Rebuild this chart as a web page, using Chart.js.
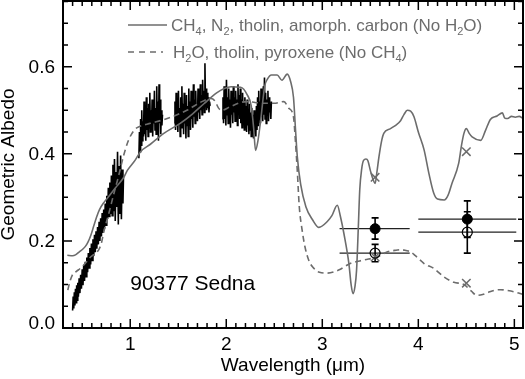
<!DOCTYPE html>
<html>
<head>
<meta charset="utf-8">
<script src="https://cdn.jsdelivr.net/npm/chart.js@4.4.1/dist/chart.umd.min.js"></script>
<style>
  html, body { margin: 0; padding: 0; background: #fff; }
</style>
</head>
<body>
<canvas id="albedo" width="525" height="379"></canvas>
<script>
  // axis ticks
  var xTickVals = [1, 2, 3, 4, 5];
  var yTickVals = [0, 0.2, 0.4, 0.6];

  // measured spectrum (null = gap between bands)
  var specX = [
    0.400, 0.406, 0.412, 0.418, 0.424, 0.430, 0.436, 0.442, 0.448, 0.454, 0.460, 0.468, 0.476, 0.484, 0.492,
    0.500, 0.508, 0.516, 0.524, 0.532, 0.540, 0.548, 0.556, 0.564, 0.572, 0.580, 0.588, 0.596, 0.604, 0.612,
    0.620, 0.628, 0.636, 0.644, 0.652, 0.660, 0.668, 0.676, 0.684, 0.692, 0.700, 0.708, 0.716, 0.724, 0.732,
    0.740, 0.748, 0.756, 0.764, 0.772, 0.780, 0.788, 0.796, 0.804, 0.812, 0.820, 0.828, 0.836, 0.844, 0.852,
    0.860, 0.868, 0.876, 0.884, 0.892, 0.900, 0.908, 0.916, 0.924, 0.930,
    1.000,
    1.090, 1.096, 1.102, 1.108, 1.114, 1.120, 1.126, 1.132, 1.138, 1.144, 1.150, 1.156, 1.162, 1.168, 1.174,
    1.180, 1.186, 1.192, 1.198, 1.204, 1.210, 1.216, 1.222, 1.228, 1.234, 1.240, 1.246, 1.252, 1.258, 1.264,
    1.270, 1.276, 1.282, 1.288, 1.294, 1.300, 1.306, 1.312, 1.318, 1.324, 1.330, 1.336,
    1.400,
    1.460, 1.466, 1.472, 1.478, 1.484, 1.490, 1.496, 1.502, 1.508, 1.514, 1.520, 1.526, 1.532, 1.538, 1.544,
    1.550, 1.556, 1.562, 1.568, 1.574, 1.580, 1.586, 1.592, 1.598, 1.604, 1.610, 1.616, 1.622, 1.628, 1.634,
    1.640, 1.646, 1.652, 1.658, 1.664, 1.670, 1.676, 1.682, 1.688, 1.694, 1.700, 1.706, 1.712, 1.718, 1.724,
    1.730, 1.736, 1.742, 1.748, 1.754, 1.760, 1.766, 1.772, 1.778, 1.784, 1.790, 1.796, 1.802, 1.808, 1.814,
    1.820, 1.826, 1.832,
    1.900,
    1.960, 1.966, 1.972, 1.978, 1.984, 1.990, 1.996, 2.002, 2.008, 2.014, 2.020, 2.026, 2.032, 2.038, 2.044,
    2.050, 2.056, 2.062, 2.068, 2.074, 2.080, 2.086, 2.092, 2.098, 2.104, 2.110, 2.116, 2.122, 2.128, 2.134,
    2.140, 2.146, 2.152, 2.158, 2.164, 2.170, 2.176, 2.182, 2.188, 2.194, 2.200, 2.206, 2.212, 2.218, 2.224,
    2.230, 2.236, 2.242, 2.248, 2.254, 2.260, 2.266, 2.272, 2.278, 2.284, 2.290, 2.296, 2.302, 2.308, 2.314,
    2.320, 2.326, 2.332, 2.338, 2.344, 2.350, 2.356, 2.362, 2.368, 2.374, 2.380, 2.386, 2.392, 2.398, 2.404,
    2.410, 2.416, 2.422, 2.428, 2.434, 2.440, 2.446, 2.452, 2.458, 2.464, 2.470
  ];
  var specY = [
    0.040, 0.072, 0.045, 0.082, 0.052, 0.090, 0.058, 0.098, 0.064, 0.104, 0.072, 0.114, 0.080, 0.122, 0.090,
    0.135, 0.098, 0.145, 0.108, 0.152, 0.118, 0.162, 0.128, 0.172, 0.138, 0.184, 0.146, 0.194, 0.155, 0.204,
    0.165, 0.214, 0.174, 0.222, 0.182, 0.232, 0.192, 0.244, 0.200, 0.252, 0.210, 0.264, 0.218, 0.272, 0.228,
    0.286, 0.236, 0.304, 0.250, 0.322, 0.256, 0.334, 0.262, 0.350, 0.258, 0.375, 0.268, 0.388, 0.246, 0.358,
    0.278, 0.405, 0.238, 0.372, 0.262, 0.396, 0.250, 0.364, 0.286, 0.348,
    null,
    0.390, 0.450, 0.405, 0.480, 0.420, 0.500, 0.430, 0.475, 0.440, 0.520, 0.445, 0.490, 0.430, 0.530, 0.455,
    0.505, 0.440, 0.515, 0.460, 0.540, 0.450, 0.500, 0.465, 0.525, 0.440, 0.510, 0.470, 0.545, 0.455, 0.505,
    0.445, 0.555, 0.460, 0.520, 0.430, 0.560, 0.470, 0.525, 0.445, 0.500, 0.465, 0.490,
    null,
    0.470, 0.520, 0.455, 0.540, 0.465, 0.510, 0.450, 0.545, 0.470, 0.505, 0.440, 0.530, 0.460, 0.555, 0.475,
    0.515, 0.445, 0.540, 0.470, 0.500, 0.435, 0.535, 0.465, 0.510, 0.440, 0.550, 0.475, 0.520, 0.455, 0.545,
    0.480, 0.510, 0.460, 0.560, 0.485, 0.525, 0.470, 0.545, 0.490, 0.515, 0.475, 0.550, 0.495, 0.530, 0.480,
    0.560, 0.500, 0.535, 0.490, 0.570, 0.505, 0.545, 0.495, 0.608, 0.510, 0.550, 0.500, 0.540, 0.505, 0.530,
    0.495, 0.520, 0.510,
    null,
    0.480, 0.530, 0.470, 0.555, 0.480, 0.540, 0.465, 0.570, 0.490, 0.530, 0.470, 0.550, 0.485, 0.525, 0.460,
    0.545, 0.490, 0.520, 0.470, 0.555, 0.495, 0.530, 0.475, 0.545, 0.500, 0.525, 0.465, 0.560, 0.490, 0.535,
    0.480, 0.550, 0.470, 0.525, 0.460, 0.540, 0.485, 0.520, 0.455, 0.530, 0.475, 0.510, 0.450, 0.525, 0.465,
    0.500, 0.445, 0.515, 0.455, 0.495, 0.440, 0.505, 0.450, 0.490, 0.435, 0.500, 0.445, 0.480, 0.440, 0.510,
    0.455, 0.530, 0.465, 0.545, 0.480, 0.520, 0.470, 0.550, 0.485, 0.535, 0.475, 0.555, 0.490, 0.575, 0.480,
    0.540, 0.470, 0.525, 0.490, 0.545, 0.475, 0.530, 0.495, 0.515, 0.480, 0.520
  ];

  // model 1: CH4, N2, tholin, amorphous carbon
  var modelAX = [
    0.345, 0.40, 0.43, 0.47, 0.51, 0.535, 0.56, 0.59, 0.62, 0.65, 0.68, 0.725, 0.78, 0.847, 0.93, 0.97,
    1.05, 1.107, 1.21, 1.35, 1.52, 1.65, 1.767, 1.90, 1.98, 2.05, 2.15, 2.22, 2.26, 2.285, 2.305, 2.33,
    2.36, 2.40, 2.43, 2.47, 2.53, 2.58, 2.635, 2.67, 2.70, 2.72, 2.74, 2.775, 2.83, 2.90, 2.965, 3.05,
    3.10, 3.156, 3.19, 3.225, 3.277, 3.30, 3.32, 3.34, 3.357, 3.375, 3.39, 3.41, 3.43, 3.455, 3.475, 3.50,
    3.52, 3.55, 3.57, 3.59, 3.62, 3.64, 3.71, 3.76, 3.815, 3.85, 3.885, 3.92, 3.955, 4.00, 4.06, 4.11,
    4.16, 4.20, 4.27, 4.31, 4.35, 4.42, 4.45, 4.475, 4.50, 4.53, 4.56, 4.65, 4.70, 4.75, 4.82, 4.875,
    4.90, 4.93, 4.97, 5.01, 5.05, 5.09
  ];
  var modelAY = [
    0.167, 0.166, 0.168, 0.175, 0.182, 0.188, 0.197, 0.213, 0.234, 0.255, 0.272, 0.288, 0.303, 0.322, 0.345, 0.362,
    0.385, 0.405, 0.422, 0.447, 0.470, 0.492, 0.515, 0.540, 0.550, 0.554, 0.553, 0.535, 0.510, 0.460, 0.408, 0.430,
    0.480, 0.555, 0.572, 0.581, 0.581, 0.569, 0.583, 0.566, 0.530, 0.460, 0.393, 0.330, 0.278, 0.248, 0.231, 0.244,
    0.258, 0.282, 0.255, 0.217, 0.148, 0.100, 0.079, 0.095, 0.133, 0.230, 0.317, 0.365, 0.385, 0.388, 0.384, 0.362,
    0.347, 0.332, 0.360, 0.393, 0.432, 0.447, 0.458, 0.465, 0.476, 0.490, 0.500, 0.498, 0.485, 0.450, 0.409, 0.355,
    0.310, 0.296, 0.294, 0.305, 0.332, 0.378, 0.420, 0.447, 0.458, 0.447, 0.439, 0.431, 0.454, 0.479, 0.487, 0.494,
    0.482, 0.481, 0.486, 0.484, 0.486, 0.481
  ];

  // model 2: H2O, tholin, pyroxene
  var modelBX = [
    0.35, 0.37, 0.396, 0.44, 0.48, 0.53, 0.587, 0.64, 0.673, 0.70, 0.725, 0.777, 0.83, 0.88, 0.93, 0.98,
    1.04, 1.10, 1.21, 1.385, 1.59, 1.73, 1.84, 1.88, 1.92, 1.95, 2.04, 2.15, 2.22, 2.30, 2.40, 2.50,
    2.60, 2.65, 2.70, 2.72, 2.74, 2.76, 2.79, 2.82, 2.86, 2.90, 2.97, 3.05, 3.17, 3.29, 3.43, 3.57,
    3.68, 3.78, 3.815, 3.87, 3.92, 3.97, 4.02, 4.06, 4.16, 4.27, 4.37, 4.475, 4.55, 4.61, 4.67, 4.72,
    4.80, 4.86, 4.93, 5.00, 5.09
  ];
  var modelBY = [
    0.087, 0.105, 0.121, 0.130, 0.137, 0.148, 0.163, 0.172, 0.180, 0.195, 0.221, 0.263, 0.309, 0.350, 0.395, 0.430,
    0.454, 0.463, 0.470, 0.481, 0.500, 0.518, 0.527, 0.522, 0.505, 0.500, 0.508, 0.518, 0.520, 0.518, 0.516, 0.516,
    0.520, 0.505, 0.485, 0.430, 0.360, 0.280, 0.225, 0.186, 0.155, 0.140, 0.128, 0.126, 0.133, 0.148, 0.156, 0.163,
    0.175, 0.179, 0.180, 0.178, 0.175, 0.166, 0.156, 0.148, 0.137, 0.117, 0.105, 0.100, 0.085, 0.075, 0.077, 0.081,
    0.087, 0.088, 0.086, 0.083, 0.077
  ];

  // models integrated over the IRAC bands (crosses)
  var bandX = [3.55, 4.50];
  var bandModelA = [0.346, 0.405];
  var bandModelB = [0.163, 0.103];

  // Spitzer photometry, two reductions
  var photX = [3.55, 4.51];
  var photXLo = [3.18, 4.00];
  var photXHi = [3.91, 5.02];
  var filledY = [0.228, 0.250];
  var filledLo = [0.204, 0.208];
  var filledHi = [0.253, 0.292];
  var openY = [0.172, 0.220];
  var openLo = [0.152, 0.172];
  var openHi = [0.192, 0.267];

  var FONT = 'Liberation Sans, Arial, Helvetica, sans-serif';
  var GREY = '#6c6c6c';

  function pairs(xs, ys) {
    return xs.map(function (x, i) { return { x: x, y: ys[i] }; });
  }

  function richText(ctx, parts, x, y, size) {
    parts.forEach(function (p) {
      var sub = p[1];
      ctx.font = (sub ? Math.round(size * 0.62) : size) + 'px ' + FONT;
      ctx.fillText(p[0], x, sub ? y + size * 0.22 : y);
      x += ctx.measureText(p[0]).width;
    });
  }

  var decor = {
    id: 'decor',
    beforeDatasetsDraw: function (chart) {
      var ctx = chart.ctx, xs = chart.scales.x, ys = chart.scales.y;
      ctx.save();
      ctx.lineWidth = 1.3;
      ctx.strokeStyle = '#222';
      // horizontal (bandwidth) bars
      [filledY, openY].forEach(function (arr) {
        arr.forEach(function (v, i) {
          var py = ys.getPixelForValue(v);
          ctx.beginPath();
          ctx.moveTo(xs.getPixelForValue(photXLo[i]), py);
          ctx.lineTo(xs.getPixelForValue(photXHi[i]), py);
          ctx.stroke();
        });
      });
      // vertical error bars with caps
      ctx.strokeStyle = '#000';
      ctx.lineWidth = 1.6;
      [[filledLo, filledHi], [openLo, openHi]].forEach(function (pr) {
        photX.forEach(function (x, i) {
          var px = xs.getPixelForValue(x);
          var lo = ys.getPixelForValue(pr[0][i]), hi = ys.getPixelForValue(pr[1][i]);
          ctx.beginPath();
          ctx.moveTo(px, lo); ctx.lineTo(px, hi);
          ctx.moveTo(px - 3.5, lo); ctx.lineTo(px + 3.5, lo);
          ctx.moveTo(px - 3.5, hi); ctx.lineTo(px + 3.5, hi);
          ctx.stroke();
        });
      });
      ctx.restore();
    },
    afterDatasetsDraw: function (chart) {
      var ctx = chart.ctx, xs = chart.scales.x, ys = chart.scales.y, a = chart.chartArea;
      ctx.save();
      // inward ticks on all four sides
      ctx.strokeStyle = '#000';
      ctx.lineWidth = 1.5;
      ctx.beginPath();
      for (var i = 4; i <= 50; i++) {
        var px = xs.getPixelForValue(i / 10);
        var len = i % 10 === 0 ? 9 : 5;
        ctx.moveTo(px, a.bottom); ctx.lineTo(px, a.bottom - len);
        ctx.moveTo(px, a.top); ctx.lineTo(px, a.top + len);
      }
      for (var j = 1; j <= 15; j++) {
        var py = ys.getPixelForValue(j * 0.05);
        var l2 = j % 4 === 0 ? 9 : 5;
        ctx.moveTo(a.left, py); ctx.lineTo(a.left + l2, py);
        ctx.moveTo(a.right, py); ctx.lineTo(a.right - l2, py);
      }
      ctx.stroke();
      // frame
      ctx.lineWidth = 2;
      ctx.strokeRect(a.left, a.top, a.right - a.left, a.bottom - a.top);

      // tick labels, placed through the scales
      ctx.fillStyle = '#000';
      ctx.font = '19px ' + FONT;
      ctx.textBaseline = 'middle';
      ctx.textAlign = 'center';
      xTickVals.forEach(function (v) {
        ctx.fillText(String(v), xs.getPixelForValue(v), a.bottom + 17);
      });
      ctx.textAlign = 'right';
      yTickVals.forEach(function (v) {
        ctx.fillText(v.toFixed(1), a.left - 8, ys.getPixelForValue(v) + (v === 0 ? -4 : 1));
      });

      // legend
      ctx.strokeStyle = GREY;
      ctx.lineWidth = 1.5;
      ctx.beginPath();
      ctx.moveTo(a.left + 65, 25); ctx.lineTo(a.left + 104, 25);
      ctx.stroke();
      ctx.setLineDash([6, 5]);
      ctx.beginPath();
      ctx.moveTo(a.left + 65, 52); ctx.lineTo(a.left + 100, 52);
      ctx.stroke();
      ctx.setLineDash([]);
      ctx.fillStyle = GREY;
      ctx.textBaseline = 'alphabetic';
      ctx.textAlign = 'left';
      richText(ctx, [['CH', 0], ['4', 1], [', N', 0], ['2', 1], [', tholin, amorph. carbon (No H', 0], ['2', 1], ['O)', 0]],
        a.left + 108, 31, 17);
      richText(ctx, [['H', 0], ['2', 1], ['O, tholin, pyroxene (No CH', 0], ['4', 1], [')', 0]],
        a.left + 110, 58, 17);

      // object name
      ctx.fillStyle = '#000';
      ctx.font = '21px ' + FONT;
      ctx.fillText('90377 Sedna', xs.getPixelForValue(1.0), ys.getPixelForValue(0.087));
      ctx.restore();
    }
  };

  var ctx = document.getElementById('albedo').getContext('2d');
  window.albedoChart = new Chart(ctx, {
    type: 'scatter',
    data: {
      datasets: [
        {
          label: 'Model bands A',
          data: pairs(bandX, bandModelA),
          pointStyle: 'crossRot', pointRadius: 6, borderColor: GREY, borderWidth: 1.5,
          showLine: false, order: 2
        },
        {
          label: 'Model bands B',
          data: pairs(bandX, bandModelB),
          pointStyle: 'crossRot', pointRadius: 6, borderColor: GREY, borderWidth: 1.5,
          showLine: false, order: 2
        },
        {
          label: 'IRAC filled',
          data: pairs(photX, filledY),
          pointStyle: 'circle', pointRadius: 5, backgroundColor: '#000', borderColor: '#000', borderWidth: 1,
          showLine: false, order: 1
        },
        {
          label: 'IRAC open',
          data: pairs(photX, openY),
          pointStyle: 'circle', pointRadius: 5, backgroundColor: 'rgba(0,0,0,0)', borderColor: '#000', borderWidth: 1.2,
          showLine: false, order: 1
        },
        {
          label: 'CH4 model',
          data: pairs(modelAX, modelAY),
          showLine: true, pointRadius: 0, borderColor: GREY, borderWidth: 1.6, cubicInterpolationMode: 'monotone',
          order: 5
        },
        {
          label: 'H2O model',
          data: pairs(modelBX, modelBY),
          showLine: true, pointRadius: 0, borderColor: GREY, borderWidth: 1.6, borderDash: [6, 4], cubicInterpolationMode: 'monotone',
          order: 5
        },
        {
          label: 'Sedna spectrum',
          data: pairs(specX, specY),
          showLine: true, spanGaps: false, pointRadius: 0, borderColor: '#000', borderWidth: 1.6,
          order: 10
        }
      ]
    },
    options: {
      responsive: false,
      animation: false,
      layout: { autoPadding: false, padding: { top: 1, right: 2, left: 0, bottom: 0 } },
      plugins: { legend: { display: false }, tooltip: { enabled: false } },
      scales: {
        x: {
          type: 'linear', min: 0.3, max: 5.09,
          grid: { display: false, drawTicks: false },
          border: { display: false },
          ticks: { display: false },
          afterFit: function (s) { s.height = 51; },
          title: { display: true, text: 'Wavelength (\u03bcm)', color: '#000', font: { family: FONT, size: 19 }, padding: { top: 0, bottom: 2 } }
        },
        y: {
          type: 'linear', min: 0, max: 0.751,
          grid: { display: false, drawTicks: false },
          border: { display: false },
          ticks: { display: false },
          afterFit: function (s) { s.width = 63; },
          title: { display: true, text: 'Geometric Albedo', color: '#000', font: { family: FONT, size: 19, lineHeight: 1 }, padding: { top: -1, bottom: 0 } }
        }
      }
    },
    plugins: [decor]
  });
</script>
</body>
</html>
